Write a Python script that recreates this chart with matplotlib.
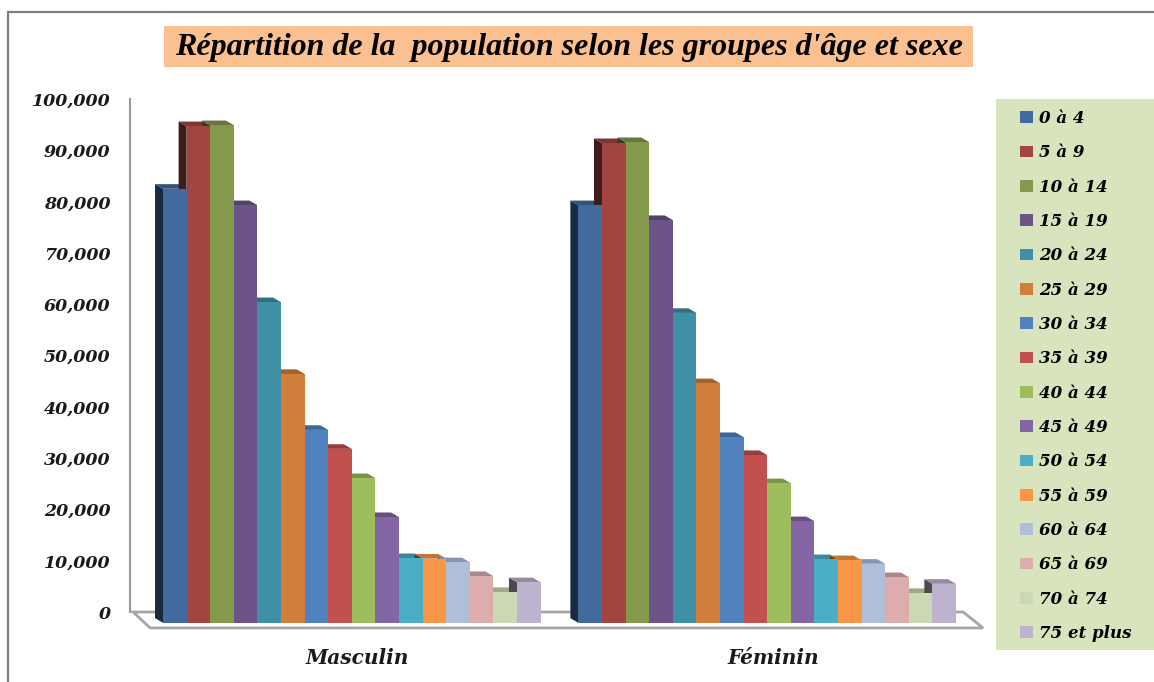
#!/usr/bin/env python3

import matplotlib
matplotlib.use("Agg")
import matplotlib.pyplot as plt
from matplotlib.patches import Polygon, Rectangle
from matplotlib.colors import to_rgb
from matplotlib.ticker import FuncFormatter
import numpy as np


categories = ["Masculin", "Féminin"]
age_groups = ["0 à 4", "5 à 9", "10 à 14", "15 à 19", "20 à 24", "25 à 29",
              "30 à 34", "35 à 39", "40 à 44", "45 à 49", "50 à 54",
              "55 à 59", "60 à 64", "65 à 69", "70 à 74", "75 et plus"]
masculin = [83400, 95600, 95800, 80200, 61300, 47300, 36400, 32700,
            27000, 19400, 11400, 11300, 10600, 7900, 4800, 6700]
feminin = [80200, 92300, 92500, 77300, 59200, 45500, 35000, 31500,
           26000, 18600, 11200, 11000, 10300, 7700, 4600, 6400]
colors = ["#416A9E", "#A24441", "#84994B", "#6C5389", "#3F8FA6", "#D07E3A",
          "#5082C0", "#C2504D", "#9EBD5D", "#8466A5", "#4BAEC8", "#F79646",
          "#AFBFDA", "#DBAEAD", "#CAD9B3", "#BDB3CE"]

W, H = 1154, 682
DX = 0.34      # depth offset of the fake 3d, in bar widths
DY_TOP = 900   # drop of the front top edge
BASE = -2100   # front bottom of the bars


def fx(x):
    return x / W


def fy(y):
    return 1 - y / H


def shade(c, k):
    r, g, b = to_rgb(c)
    return (r * k, g * k, b * k)


serif = dict(family="DejaVu Serif", style="italic", weight="bold")

fig = plt.figure(figsize=(W / 100, H / 100), dpi=100)
fig.patch.set_facecolor("white")

# outer border
fig.patches.append(Rectangle((fx(8), fy(700)), fx(1160) - fx(8), fy(12) - fy(700),
                             transform=fig.transFigure, fill=False,
                             edgecolor="#808080", lw=1.6))

# title
fig.patches.append(Rectangle((fx(164), fy(67)), fx(973) - fx(164), fy(26) - fy(67),
                             transform=fig.transFigure, facecolor="#FAC090",
                             edgecolor="none"))
fig.text(fx(569), fy(47), "Répartition de la  population selon les groupes d'âge et sexe",
         ha="center", va="center", fontsize=23, family="Liberation Serif",
         style="italic", weight="bold", color="black")

ax = fig.add_axes([fx(130), fy(627.4), (985 - 130) / W, (627.4 - 99) / H])
ax.set_xlim(-9.4, 26.83)
ax.set_ylim(-3000, 100000)
ax.patch.set_alpha(0)

cat_x = np.array([0.0, 17.6])

# floor
ax.add_patch(Polygon([(-9.27, 0), (25.9, 0), (26.75, -3100), (-8.55, -3100)],
                     closed=True, facecolor="white", edgecolor="#a6a6a6",
                     lw=2, zorder=1, clip_on=False))

handles = []
for i, grp in enumerate(age_groups):
    vals = np.array([masculin[i], feminin[i]])
    xs = cat_x + (i - 7.5)
    b = ax.bar(xs, vals - DY_TOP - BASE, bottom=BASE, width=1.0,
               color=colors[i], label=grp, zorder=3, linewidth=0)
    handles.append(b)
    for x, v in zip(xs, vals):
        xl, xr = x - 0.5, x + 0.5
        side = [(xl, BASE), (xl, v - DY_TOP), (xl - DX, v), (xl - DX, BASE + DY_TOP)]
        top = [(xl, v - DY_TOP), (xr, v - DY_TOP), (xr - DX, v), (xl - DX, v)]
        ax.add_patch(Polygon(side, closed=True, facecolor=shade(colors[i], 0.4),
                             edgecolor="none", zorder=2))
        ax.add_patch(Polygon(top, closed=True, facecolor=shade(colors[i], 0.78),
                             edgecolor="none", zorder=2))

for s in ["top", "right", "bottom"]:
    ax.spines[s].set_visible(False)
ax.spines["left"].set_bounds(0, 100000)
ax.spines["left"].set_color("#9a9a9a")
ax.spines["left"].set_linewidth(1.5)

ax.set_yticks(range(0, 100001, 10000))
ax.yaxis.set_major_formatter(FuncFormatter(lambda v, p: "{:,.0f}".format(v)))
ax.set_xticks(cat_x + 0.25)
ax.set_xticklabels(categories)
ax.tick_params(axis="y", length=0, pad=14, labelsize=12.5, labelcolor="#1a1a1a")
ax.tick_params(axis="x", length=0, pad=14.5, labelsize=14.5, labelcolor="#1a1a1a")
for lab in ax.get_yticklabels() + ax.get_xticklabels():
    lab.set_family("DejaVu Serif")
    lab.set_style("italic")
    lab.set_weight("bold")

# legend
fig.patches.append(Rectangle((fx(996), fy(650)), fx(1154) - fx(996), fy(99) - fy(650),
                             transform=fig.transFigure, facecolor="#D7E4BD",
                             edgecolor="none"))
fig.legend(handles, age_groups, loc="upper left",
           bbox_to_anchor=(fx(1020), fy(110)), frameon=False,
           prop=dict(serif, size=12), handlelength=0.8, handleheight=0.7,
           handletextpad=0.35, labelspacing=1.04, borderpad=0,
           borderaxespad=0)

fig.savefig("out.png", dpi=100)
